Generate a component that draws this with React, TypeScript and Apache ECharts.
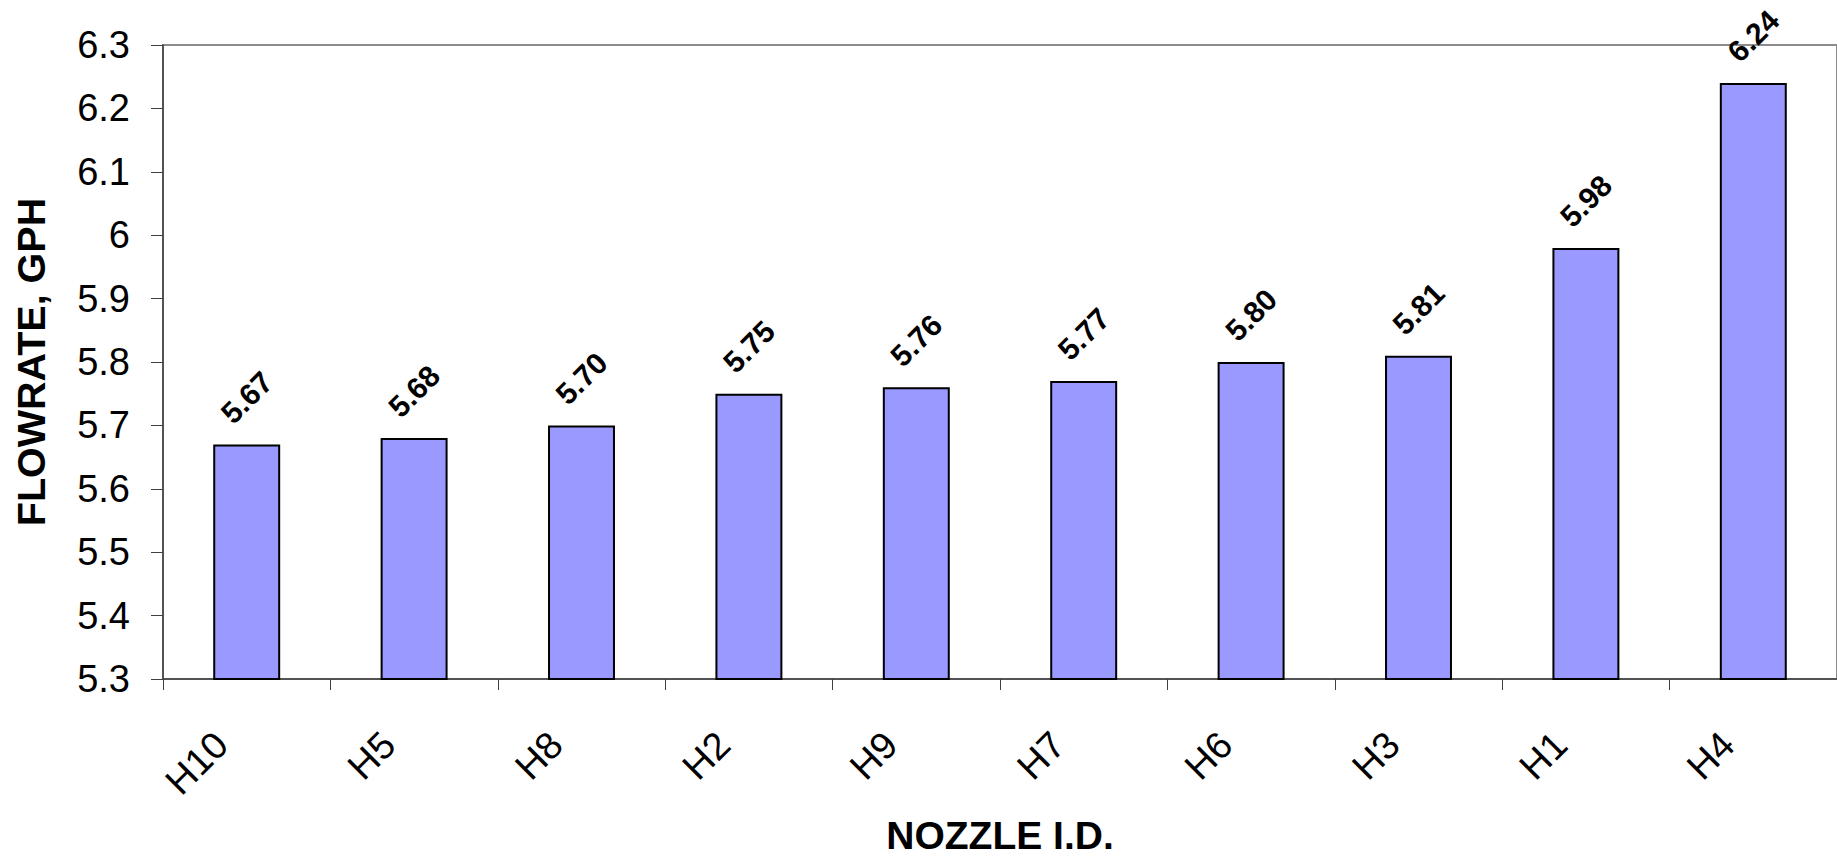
import React, { useEffect, useRef } from "react";
import * as echarts from "echarts";

// Nozzle IDs, ordered by measured flow rate
const nozzles = ["H10", "H5", "H8", "H2", "H9", "H7", "H6", "H3", "H1", "H4"];
// Flow rate per nozzle, gallons per hour
const flowRates = [5.67, 5.68, 5.7, 5.75, 5.76, 5.77, 5.8, 5.81, 5.98, 6.24];

const yMin = 5.3;
const yMax = 6.3;
const yStep = 0.1;

const FONT = "'Liberation Sans', Arial, Helvetica, sans-serif";

export default function App() {
  const ref = useRef<HTMLDivElement | null>(null);

  useEffect(() => {
    if (!ref.current) return;
    const chart = echarts.init(ref.current, null, { renderer: "svg" });
    chart.setOption({
      animation: false,
      backgroundColor: "#ffffff",
      grid: {
        left: 163,
        top: 45,
        height: 641,
        right: -5,
        show: true,
        borderColor: "#8c8c8c",
        borderWidth: 2,
        backgroundColor: "transparent",
      },
      xAxis: {
        type: "category",
        data: nozzles,
        name: "NOZZLE I.D.",
        nameLocation: "middle",
        nameGap: 137,
        nameTextStyle: {
          fontFamily: FONT,
          fontSize: 39,
          fontWeight: "bold",
          color: "#000",
        },
        axisLine: { show: true, lineStyle: { color: "#404040", width: 1.5 } },
        axisTick: {
          show: true,
          alignWithLabel: false,
          length: 11,
          lineStyle: { color: "#404040", width: 1 },
        },
        axisLabel: {
          interval: 0,
          rotate: 45,
          margin: 34,
          padding: [0, 36, 0, 0],
          fontFamily: FONT,
          fontSize: 38,
          color: "#000",
        },
        splitLine: { show: false },
      },
      yAxis: {
        type: "value",
        min: yMin,
        max: yMax,
        interval: yStep,
        name: "FLOWRATE, GPH",
        nameLocation: "middle",
        nameRotate: 90,
        nameGap: 112,
        nameTextStyle: {
          fontFamily: FONT,
          fontSize: 39.5,
          fontWeight: "bold",
          color: "#000",
        },
        axisLine: { show: true, lineStyle: { color: "#404040", width: 1.5 } },
        axisTick: {
          show: true,
          inside: false,
          length: 12,
          lineStyle: { color: "#404040", width: 1 },
        },
        axisLabel: {
          margin: 33,
          fontFamily: FONT,
          fontSize: 38,
          color: "#000",
        },
        splitLine: { show: false },
      },
      series: [
        {
          type: "bar",
          data: flowRates,
          barWidth: "40%",
          itemStyle: {
            color: "#9999ff",
            borderColor: "#000000",
            borderWidth: 2,
          },
          label: {
            show: true,
            position: "top",
            distance: 47,
            rotate: 45,
            align: "center",
            verticalAlign: "middle",
            fontFamily: FONT,
            fontSize: 30,
            fontWeight: "bold",
            color: "#000",
            formatter: (p: any) => Number(p.value).toFixed(2),
          },
        },
      ],
    });
    return () => chart.dispose();
  }, []);

  return (
    <div
      ref={ref}
      style={{
        position: "fixed",
        left: 0,
        top: 0,
        width: 1837,
        height: 860,
        background: "#fff",
      }}
    />
  );
}
